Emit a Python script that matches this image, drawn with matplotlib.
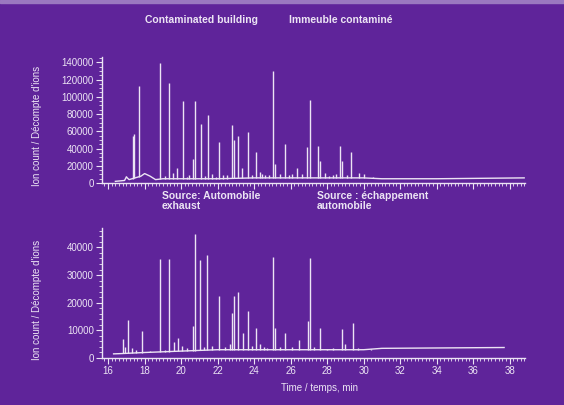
import numpy as np
import matplotlib
matplotlib.use('Agg')
import matplotlib.pyplot as plt
from matplotlib.ticker import MultipleLocator
from matplotlib.patches import Rectangle

plt.rcParams['font.family'] = ['Liberation Sans', 'DejaVu Sans']

# 数据：峰的保留时间 (min) 和高度 (离子计数)
top_peak_t = [17.0, 17.35, 17.40, 17.72, 18.82, 19.1, 19.33, 19.55, 19.77, 20.1, 20.3, 20.45,
              20.67, 20.78, 21.09, 21.3, 21.46, 21.7, 21.9, 22.06, 22.3, 22.5, 22.78, 22.92,
              23.11, 23.35, 23.64, 23.9, 24.09, 24.3, 24.45, 24.6, 24.8, 25.03, 25.15, 25.4,
              25.67, 25.9, 26.1, 26.36, 26.6, 26.88, 27.04, 27.5, 27.6, 27.9, 28.1, 28.3, 28.5,
              28.7, 28.8, 29.1, 29.33, 29.75, 30.0, 30.5, 31.1]
top_peak_h = [8000, 55000, 57000, 113000, 139000, 8000, 116000, 12000, 17000, 95000, 7000, 9000,
              28000, 95000, 69000, 8000, 79000, 10000, 7000, 48000, 9000, 9000, 67000, 50000,
              54000, 18000, 59000, 9000, 36000, 13000, 10000, 9000, 9000, 130000, 22000, 10000,
              45000, 9000, 10000, 17000, 10000, 42000, 96000, 43000, 25000, 12000, 8000, 9000, 10000,
              43000, 25000, 9000, 36000, 12000, 10000, 7000, 5000]
top_base_t = [16.4, 16.9, 17.0, 17.15, 17.8, 18.0, 18.3, 18.6, 19.0, 20.0, 22.0, 24.0, 25.0,
              26.0, 27.0, 28.0, 29.0, 30.0, 31.0, 34.0, 38.8]
top_base_v = [2000, 3000, 7000, 4000, 8000, 11000, 8000, 4000, 5000, 5000, 5000, 6000, 6000,
              6000, 6000, 6000, 6000, 6000, 5000, 5000, 6000]

bot_peak_t = [16.84, 16.95, 17.1, 17.3, 17.55, 17.83, 18.3, 18.86, 19.1, 19.35, 19.59, 19.83,
              20.07, 20.3, 20.67, 20.74, 21.05, 21.25, 21.43, 21.7, 22.06, 22.4, 22.67, 22.78,
              22.92, 23.12, 23.38, 23.65, 23.9, 24.13, 24.35, 24.55, 24.7, 25.03, 25.15, 25.4,
              25.72, 26.1, 26.46, 26.97, 27.08, 27.3, 27.59, 28.0, 28.3, 28.84, 29.0, 29.42,
              29.7, 30.1, 30.4]
bot_peak_h = [7000, 4000, 13800, 3500, 3000, 9600, 2500, 35900, 3000, 35900, 5800, 7400,
              4500, 3500, 11700, 44800, 35500, 4000, 37300, 4500, 22500, 4000, 5000, 16200,
              22600, 24000, 9000, 17100, 4500, 11000, 5000, 4000, 3500, 36700, 11000, 4000,
              9000, 4000, 6400, 13500, 36300, 4000, 10800, 3200, 3500, 10600, 5000, 12700,
              3500, 3000, 2800]
bot_base_t = [16.3, 16.7, 18.0, 20.0, 22.0, 24.0, 26.0, 28.0, 30.0, 31.0, 37.7]
bot_base_v = [1500, 1600, 2000, 2500, 3000, 3000, 3000, 3000, 3000, 3500, 3800]

bg = '#5f249a'
fg = '#ece4f4'

fig = plt.figure(figsize=(5.64, 4.05), dpi=100, facecolor=bg)
fig.add_artist(Rectangle((0, 0.992), 1, 0.008, transform=fig.transFigure, color='#9a78c0'))

ax1 = fig.add_axes([0.181, 0.548, 0.75, 0.311])
ax2 = fig.add_axes([0.181, 0.116, 0.75, 0.321])


def draw(ax, pt, ph, bt, bv, ymax, ymaj, ymin):
    ax.set_facecolor(bg)
    ax.plot(bt, bv, color=fg, lw=1.0)
    base = np.interp(pt, bt, bv)
    ax.vlines(pt, base, ph, color=fg, lw=1.0)
    ax.set_xlim(15.67, 38.85)
    ax.set_ylim(0, ymax)
    for s in ['top', 'right']:
        ax.spines[s].set_visible(False)
    for s in ['left', 'bottom']:
        ax.spines[s].set_color(fg)
        ax.spines[s].set_linewidth(1.0)
    ax.xaxis.set_major_locator(MultipleLocator(2))
    ax.xaxis.set_minor_locator(MultipleLocator(0.2))
    ax.yaxis.set_major_locator(MultipleLocator(ymaj))
    ax.yaxis.set_minor_locator(MultipleLocator(ymin))
    ax.tick_params(colors=fg, labelsize=7, length=4, width=0.8, pad=2)
    ax.tick_params(which='minor', colors=fg, length=2.5, width=0.6)
    ax.set_ylabel("Ion count / Décompte d'ions", color=fg, fontsize=7)


draw(ax1, top_peak_t, top_peak_h, top_base_t, top_base_v, 146000, 20000, 5000)
ax1.yaxis.set_label_coords(-0.142, 0.45)
ax1.tick_params(axis='x', labelbottom=False)

draw(ax2, bot_peak_t, bot_peak_h, bot_base_t, bot_base_v, 47000, 10000, 2000)
ax2.yaxis.set_label_coords(-0.142, 0.45)
ax2.set_xlabel('Time / temps, min', color=fg, fontsize=7)
ax2.xaxis.set_label_coords(0.515, -0.19)

fig.text(0.358, 0.951, 'Contaminated building', color=fg, fontsize=7.5, weight='bold',
         ha='center', va='center')
fig.text(0.605, 0.951, 'Immeuble contaminé', color=fg, fontsize=7.5, weight='bold',
         ha='center', va='center')
fig.text(0.287, 0.503, 'Source: Automobile\nexhaust', color=fg, fontsize=7.5, weight='bold',
         ha='left', va='center', linespacing=0.95)
fig.text(0.562, 0.503, 'Source : échappement\nautomobile', color=fg, fontsize=7.5, weight='bold',
         ha='left', va='center', linespacing=0.95)

fig.savefig('out.png', dpi=100, facecolor=bg)
